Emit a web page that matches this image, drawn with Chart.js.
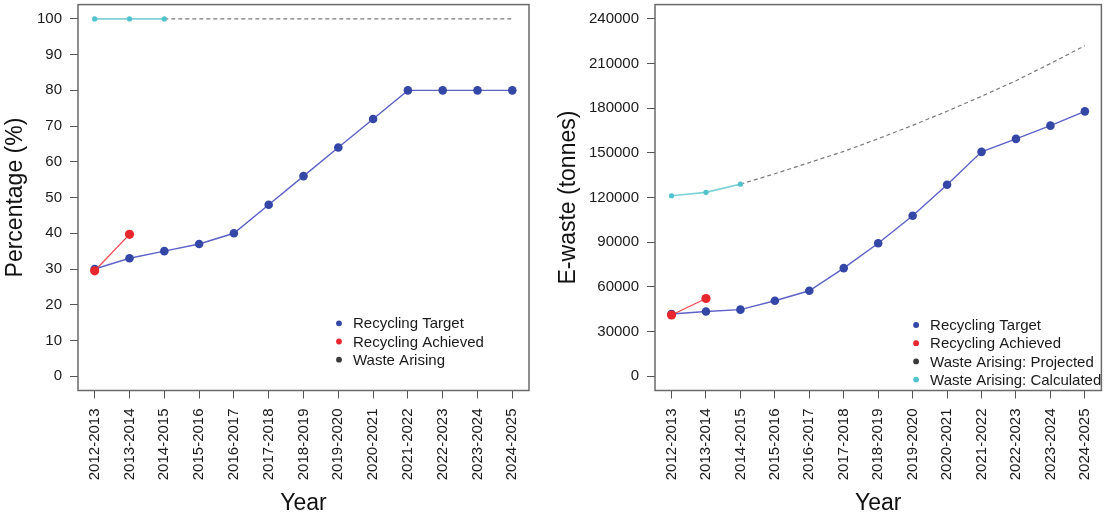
<!DOCTYPE html>
<html>
<head>
<meta charset="utf-8">
<script src="https://cdn.jsdelivr.net/npm/chart.js@4"></script>
<style>
  body { margin: 0; background: #fff; }
  #wrap { position: relative; width: 1106px; height: 517px; }
  canvas { position: absolute; top: 0; }
</style>
</head>
<body>
<div id="wrap">
  <canvas id="gauche" width="553" height="517" style="left:0"></canvas>
  <canvas id="droite" width="553" height="517" style="left:553px"></canvas>
</div>
<script>
// donnees
const annees = ["2012-2013", "2013-2014", "2014-2015", "2015-2016", "2016-2017", "2017-2018", "2018-2019",
                "2019-2020", "2020-2021", "2021-2022", "2022-2023", "2023-2024", "2024-2025"];

const pctObjectif = [30, 33, 35, 37, 40, 48, 56, 64, 72, 80, 80, 80, 80];
const pctAtteint = [29.5, 39.7];
const pctCalcule = [100, 100, 100];
const pctProjete = [null, null, 100, 100, 100, 100, 100, 100, 100, 100, 100, 100, 100];
const pctTicks = [0, 10, 20, 30, 40, 50, 60, 70, 80, 90, 100];

const tonObjectif = [41800, 43500, 44700, 50700, 57400, 72600, 89300, 107800, 128600, 150700, 159400, 168300, 177900];
const tonAtteint = [41100, 52200];
const tonCalcule = [121200, 123500, 129000];
const tonProjete = [null, null, 129000, 136000, 143500, 151000, 159500, 168500, 178000, 188000, 198500, 210000, 222000];
const tonTicks = [0, 30000, 60000, 90000, 120000, 150000, 180000, 210000, 240000];

const legendeGauche = ["Recycling Target", "Recycling Achieved", "Waste Arising"];
const legendeDroite = ["Recycling Target", "Recycling Achieved", "Waste Arising: Projected", "Waste Arising: Calculated"];
const couleursLegende = ["#3446a6", "#e8262d", "#3a3a3a", "#52c4cd"];

const POLICE = '"Liberation Sans", Arial, sans-serif';

function points(valeurs) {
    let p = [];
    for (let i = 0; i < valeurs.length; i++) {
        if (valeurs[i] !== null) p.push({x: i, y: valeurs[i]});
    }
    return p;
}

function series(objectif, atteint, calcule, projete) {
    return [
        {
            data: points(atteint), order: 0,
            borderColor: "#ee4a4f", borderWidth: 1.3,
            pointRadius: 4.6, pointBackgroundColor: "#e8262d", pointBorderWidth: 0
        },
        {
            data: points(objectif), order: 1,
            borderColor: "#5d62c6", borderWidth: 1.4,
            pointRadius: 4.3, pointBackgroundColor: "#3446a6", pointBorderWidth: 0
        },
        {
            data: points(calcule), order: 2,
            borderColor: "#7ed3d9", borderWidth: 1.6,
            pointRadius: 2.6, pointBackgroundColor: "#4fc2cb", pointBorderWidth: 0
        },
        {
            data: points(projete), order: 3,
            borderColor: "#7a7a7a", borderWidth: 1.2, borderDash: [4, 3],
            pointRadius: 0
        }
    ];
}

// cadre autour de la zone du graphique + legende en bas a droite
const cadre = {
    id: "cadre",
    afterDraw(chart, args, opts) {
        const a = chart.chartArea;
        const ctx = chart.ctx;
        ctx.save();
        ctx.strokeStyle = "#6a6a6a";
        ctx.lineWidth = 1.5;
        ctx.strokeRect(a.left, a.top, a.right - a.left, a.bottom - a.top);
        ctx.font = "15px " + POLICE;
        ctx.textBaseline = "middle";
        for (let n = 0; n < opts.labels.length; n++) {
            let x = a.right + opts.dx;
            let y = a.bottom + opts.dy + n * 18.2;
            ctx.fillStyle = couleursLegende[n];
            ctx.beginPath();
            ctx.arc(x, y, 2.9, 0, Math.PI * 2);
            ctx.fill();
            ctx.fillStyle = "#1a1a1a";
            ctx.fillText(opts.labels[n], x + 14, y + 1);
        }
        ctx.restore();
    }
};

function sansMarge(s) {
    s.paddingTop = 0;
    s.paddingBottom = 0;
    s.paddingLeft = 0;
    s.paddingRight = 0;
}

function options(titreY, ticksY, minY, maxY, largeurY, droite, legende, dx, dy) {
    return {
        responsive: false,
        animation: false,
        layout: { padding: { top: 4, right: droite, bottom: 0, left: 0 } },
        plugins: {
            legend: { display: false },
            tooltip: { enabled: false },
            cadre: { labels: legende, dx: dx, dy: dy }
        },
        scales: {
            x: {
                type: "linear", min: -0.48, max: 12.48,
                afterBuildTicks: s => { s.ticks = annees.map((a, i) => ({value: i})); },
                afterFit: s => { s.height = 517 - 390.5; sansMarge(s); },
                border: { display: false },
                grid: { drawOnChartArea: false, drawTicks: true, tickLength: 8, color: "#555" },
                ticks: {
                    autoSkip: false, minRotation: 90, maxRotation: 90, padding: 10,
                    color: "#1a1a1a", font: { family: POLICE, size: 15 },
                    callback: v => annees[v]
                },
                title: {
                    display: true, text: "Year", color: "#111",
                    font: { family: POLICE, size: 23 }, padding: { top: 0, bottom: 0 }
                }
            },
            y: {
                min: minY, max: maxY,
                afterBuildTicks: s => { s.ticks = ticksY.map(v => ({value: v})); },
                afterFit: s => { s.width = largeurY; sansMarge(s); },
                border: { display: false },
                grid: { drawOnChartArea: false, drawTicks: true, tickLength: 8, color: "#555" },
                ticks: {
                    padding: 8, color: "#1a1a1a", font: { family: POLICE, size: 15 },
                    callback: v => String(v)
                },
                title: {
                    display: true, text: titreY, color: "#111",
                    font: { family: POLICE, size: 23 }, padding: { top: 2, bottom: 0 }
                }
            }
        }
    };
}

new Chart(document.getElementById("gauche"), {
    type: "line",
    data: { datasets: series(pctObjectif, pctAtteint, pctCalcule, pctProjete) },
    options: options("Percentage (%)", pctTicks, -4, 104, 78, 24, legendeGauche, -190, -67.2),
    plugins: [cadre]
});

new Chart(document.getElementById("droite"), {
    type: "line",
    data: { datasets: series(tonObjectif, tonAtteint, tonCalcule, tonProjete) },
    options: options("E-waste (tonnes)", tonTicks, -9600, 249600, 102, 4, legendeDroite, -185.3, -65.5),
    plugins: [cadre]
});
</script>
</body>
</html>
